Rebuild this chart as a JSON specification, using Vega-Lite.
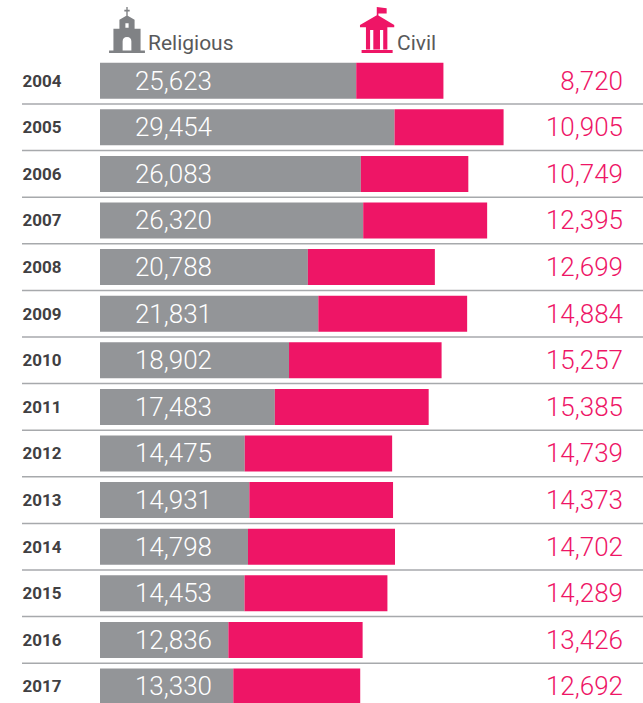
{
  "$schema": "https://vega.github.io/schema/vega-lite/v6.json",
  "width": 621,
  "height": 699,
  "padding": {"left": 22, "top": 10.8, "right": 0, "bottom": 0},
  "autosize": "none",
  "background": "white",
  "config": {"view": {"stroke": null}, "font": "Roboto"},
  "datasets": {
    "rows": [
      {"year": "2004", "type": "Religious", "value": 25623}, {"year": "2004", "type": "Civil", "value": 8720},
      {"year": "2005", "type": "Religious", "value": 29454}, {"year": "2005", "type": "Civil", "value": 10905},
      {"year": "2006", "type": "Religious", "value": 26083}, {"year": "2006", "type": "Civil", "value": 10749},
      {"year": "2007", "type": "Religious", "value": 26320}, {"year": "2007", "type": "Civil", "value": 12395},
      {"year": "2008", "type": "Religious", "value": 20788}, {"year": "2008", "type": "Civil", "value": 12699},
      {"year": "2009", "type": "Religious", "value": 21831}, {"year": "2009", "type": "Civil", "value": 14884},
      {"year": "2010", "type": "Religious", "value": 18902}, {"year": "2010", "type": "Civil", "value": 15257},
      {"year": "2011", "type": "Religious", "value": 17483}, {"year": "2011", "type": "Civil", "value": 15385},
      {"year": "2012", "type": "Religious", "value": 14475}, {"year": "2012", "type": "Civil", "value": 14739},
      {"year": "2013", "type": "Religious", "value": 14931}, {"year": "2013", "type": "Civil", "value": 14373},
      {"year": "2014", "type": "Religious", "value": 14798}, {"year": "2014", "type": "Civil", "value": 14702},
      {"year": "2015", "type": "Religious", "value": 14453}, {"year": "2015", "type": "Civil", "value": 14289},
      {"year": "2016", "type": "Religious", "value": 12836}, {"year": "2016", "type": "Civil", "value": 13426},
      {"year": "2017", "type": "Religious", "value": 13330}, {"year": "2017", "type": "Civil", "value": 12692}
    ],
    "legend": [
      {"year": "", "type": "Religious", "iconAt": 2700, "labelAt": 4800},
      {"year": "", "type": "Civil", "iconAt": 27700, "labelAt": 29700}
    ]
  },
  "data": {"name": "rows"},
  "encoding": {
    "y": {
      "field": "year", "type": "ordinal",
      "scale": {"domain": ["", "2004", "2005", "2006", "2007", "2008", "2009", "2010", "2011", "2012", "2013", "2014", "2015", "2016", "2017"], "paddingInner": 0, "paddingOuter": 0},
      "axis": {"title": null, "domain": false, "ticks": false, "labelAlign": "left", "labelPadding": 0, "labelOffset": 1, "labelFont": "Roboto", "labelFontWeight": "bold", "labelFontSize": 17, "labelColor": "#414042", "zindex": 1}
    }
  },
  "layer": [
    {
      "transform": [{"filter": "datum.type === 'Civil' && datum.year !== '2004'"}],
      "mark": {"type": "rule", "color": "#a7a9ac", "strokeWidth": 1.5},
      "encoding": {"y": {"field": "year", "type": "ordinal", "bandPosition": 0}}
    },
    {
      "mark": {"type": "bar", "height": 36},
      "encoding": {
        "x": {"field": "value", "type": "quantitative", "stack": "zero", "scale": {"domain": [-7800, 54300], "nice": false, "zero": false}, "axis": null},
        "color": {"field": "type", "type": "nominal", "scale": {"domain": ["Religious", "Civil"], "range": ["#939598", "#ee1566"]}, "legend": null},
        "order": {"field": "type", "sort": "descending"}
      }
    },
    {
      "transform": [{"filter": "datum.type === 'Religious'"}],
      "mark": {"type": "text", "align": "right", "baseline": "middle", "font": "Roboto", "fontWeight": 300, "fontSize": 26, "dy": 1, "color": "white"},
      "encoding": {"x": {"datum": 11200, "type": "quantitative"}, "text": {"field": "value", "type": "quantitative", "format": ","}}
    },
    {
      "transform": [{"filter": "datum.type === 'Civil'"}],
      "mark": {"type": "text", "align": "right", "baseline": "middle", "font": "Roboto", "fontWeight": 300, "fontSize": 26, "dy": 1, "color": "#ee1566"},
      "encoding": {"x": {"datum": 52300, "type": "quantitative"}, "text": {"field": "value", "type": "quantitative", "format": ","}}
    },
    {
      "data": {"name": "legend"},
      "mark": {"type": "text", "align": "left", "baseline": "middle", "font": "Roboto", "fontSize": 21, "dy": 10, "color": "#58595b"},
      "encoding": {"x": {"field": "labelAt", "type": "quantitative"}, "text": {"field": "type"}}
    },
    {
      "data": {"name": "legend"},
      "transform": [{"filter": "datum.type === 'Religious'"}],
      "mark": {
        "type": "point", "filled": true, "size": 2116, "yOffset": -4, "color": "#808285", "opacity": 1, "strokeWidth": 0,
        "shape": "M-0.03,-1 L0.03,-1 L0.03,-0.88 L0.116,-0.88 L0.116,-0.81 L0.03,-0.81 L0.03,-0.62 L0.33,-0.45 L0.33,-0.06 L0.59,-0.06 L0.59,0.885 L0.78,0.885 L0.78,1 L-0.78,1 L-0.78,0.885 L-0.59,0.885 L-0.59,-0.06 L-0.33,-0.06 L-0.33,-0.45 L-0.03,-0.62 L-0.03,-0.81 L-0.116,-0.81 L-0.116,-0.88 L-0.03,-0.88 Z M-0.19,0.885 L0.19,0.885 L0.19,0.5 Q0.19,0.3 0,0.3 Q-0.19,0.3 -0.19,0.5 Z M-0.07,-0.1 L0.07,-0.1 L0.07,-0.3 L-0.07,-0.3 Z"
      },
      "encoding": {"x": {"field": "iconAt", "type": "quantitative"}}
    },
    {
      "data": {"name": "legend"},
      "transform": [{"filter": "datum.type === 'Civil'"}],
      "mark": {
        "type": "point", "filled": true, "size": 2116, "yOffset": -4, "color": "#ee1566", "opacity": 1, "strokeWidth": 0,
        "shape": "M-0.01,-1 L0.42,-0.95 L0.42,-0.72 L0.06,-0.72 L0.06,-0.63 L0.75,-0.22 L0.75,-0.12 L0.45,-0.12 L0.45,0.84 L0.27,0.84 L0.27,0 L0.13,0 L0.13,0.84 L-0.16,0.84 L-0.16,0 L-0.3,0 L-0.3,0.84 L-0.48,0.84 L-0.48,-0.12 L-0.74,-0.12 L-0.74,-0.22 L-0.01,-0.65 Z M-0.67,0.87 L0.68,0.87 L0.68,1 L-0.67,1 Z"
      },
      "encoding": {"x": {"field": "iconAt", "type": "quantitative"}}
    }
  ]
}
